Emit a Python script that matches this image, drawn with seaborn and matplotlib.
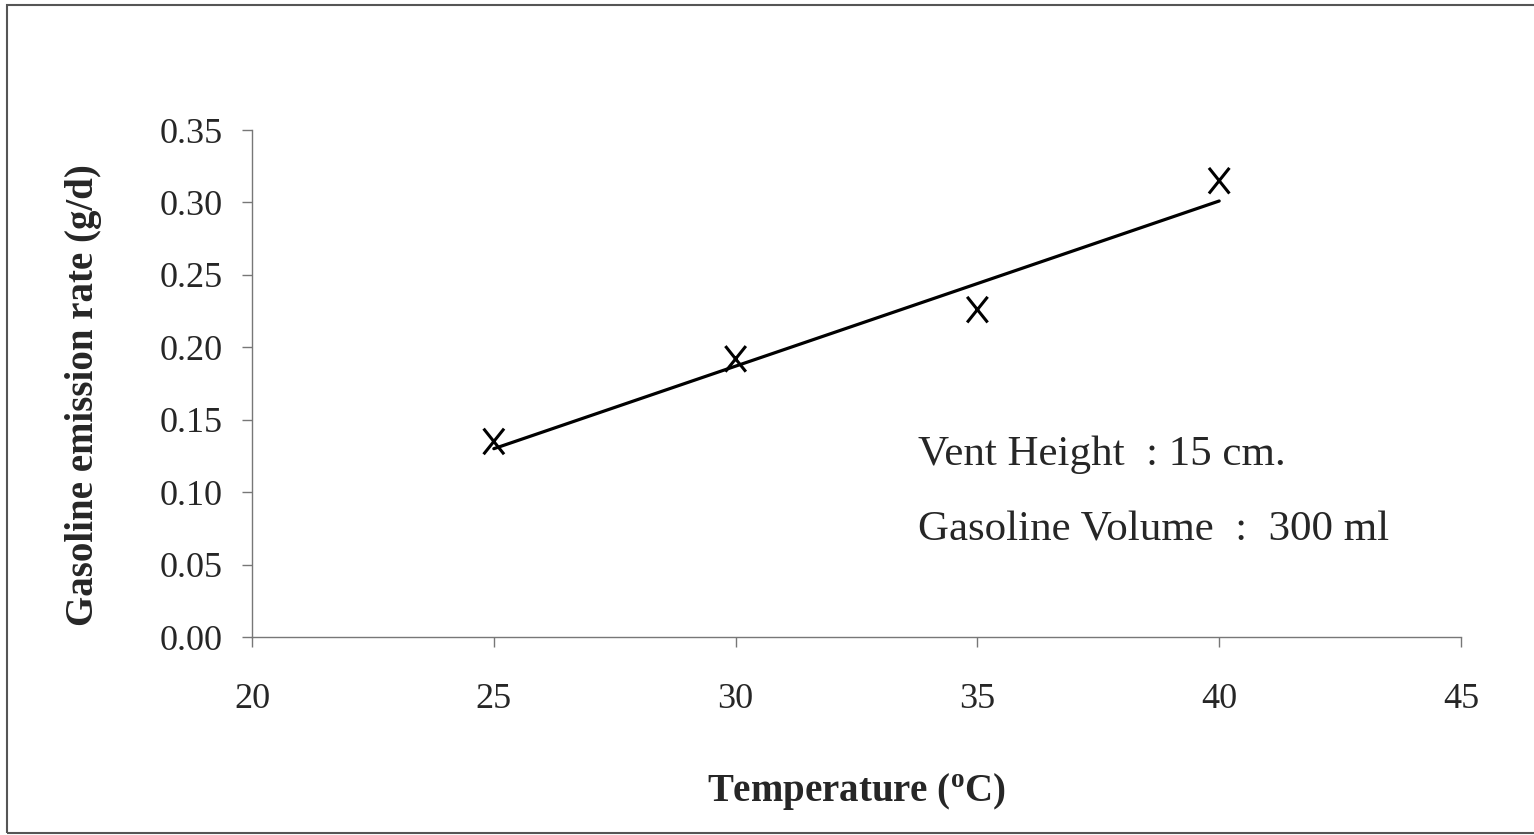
import matplotlib
matplotlib.use("Agg")
import matplotlib.pyplot as plt
import matplotlib.patches as mpatches
from matplotlib.path import Path
import pandas as pd
import seaborn as sns

# =====================
# Data
# =====================
temperature = [25, 30, 35, 40]
emission_rate = [0.135, 0.192, 0.226, 0.315]

# trend line end points
trend_x = [25, 40]
trend_y = [0.130, 0.301]

x_ticks = [20, 25, 30, 35, 40, 45]
y_ticks = [0.00, 0.05, 0.10, 0.15, 0.20, 0.25, 0.30, 0.35]

df = pd.DataFrame({"Temperature": temperature, "Rate": emission_rate})
trend = pd.DataFrame({"Temperature": trend_x, "Rate": trend_y})

# =====================
# Style
# =====================
sns.set_style("white")
plt.rcParams["font.family"] = ["Liberation Serif", "DejaVu Serif"]
plt.rcParams["mathtext.fontset"] = "custom"
plt.rcParams["mathtext.rm"] = "Liberation Serif:bold"

fig = plt.figure(figsize=(15.34, 8.35), dpi=100)
ax = fig.add_axes([0.1643, 0.2371, 0.7881, 0.6072])

# cross marker shaped like a text "X"
cross = Path([(-0.4, -0.5), (0.4, 0.5), (-0.4, 0.5), (0.4, -0.5)],
             [Path.MOVETO, Path.LINETO, Path.MOVETO, Path.LINETO])

sns.lineplot(data=trend, x="Temperature", y="Rate", ax=ax,
             color="black", linewidth=2.3)
sns.scatterplot(data=df, x="Temperature", y="Rate", ax=ax,
                marker=cross, s=340, color="none", edgecolor="black",
                linewidth=2.2, zorder=3)

ax.set_xlim(20, 45)
ax.set_ylim(0, 0.35)
ax.set_xticks(x_ticks)
ax.set_yticks(y_ticks)
ax.set_xticklabels([str(t) for t in x_ticks])
ax.set_yticklabels(["%.2f" % t for t in y_ticks])

for side in ["top", "right"]:
    ax.spines[side].set_visible(False)
for side in ["left", "bottom"]:
    ax.spines[side].set_color("#777777")
    ax.spines[side].set_linewidth(1.0)

ax.tick_params(axis="x", direction="out", length=7, width=1.0,
               color="#777777", pad=26, labelsize=26, bottom=True)
ax.tick_params(axis="y", direction="out", length=7, width=1.0,
               color="#777777", pad=14, labelsize=26, left=True)

ax.set_xlabel(r"Temperature ($^{\rm o}$C)", fontsize=28,
              fontweight="bold", labelpad=40)
ax.set_ylabel("Gasoline emission rate (g/d)", fontsize=28,
              fontweight="bold")
ax.yaxis.set_label_coords(-0.124, 0.478)

ax.text(0.551, 0.340, "Vent Height  : 15 cm.", transform=ax.transAxes,
        fontsize=31, ha="left", va="baseline")
ax.text(0.551, 0.190, "Gasoline Volume  :  300 ml", transform=ax.transAxes,
        fontsize=31, ha="left", va="baseline")

# frame around the whole chart
fig.patches.append(mpatches.Rectangle(
    (0.0046, 0.0024), 1.1, 0.9916, transform=fig.transFigure,
    fill=False, edgecolor="#555555", linewidth=1.5))

fig.savefig("out.png", dpi=100)
